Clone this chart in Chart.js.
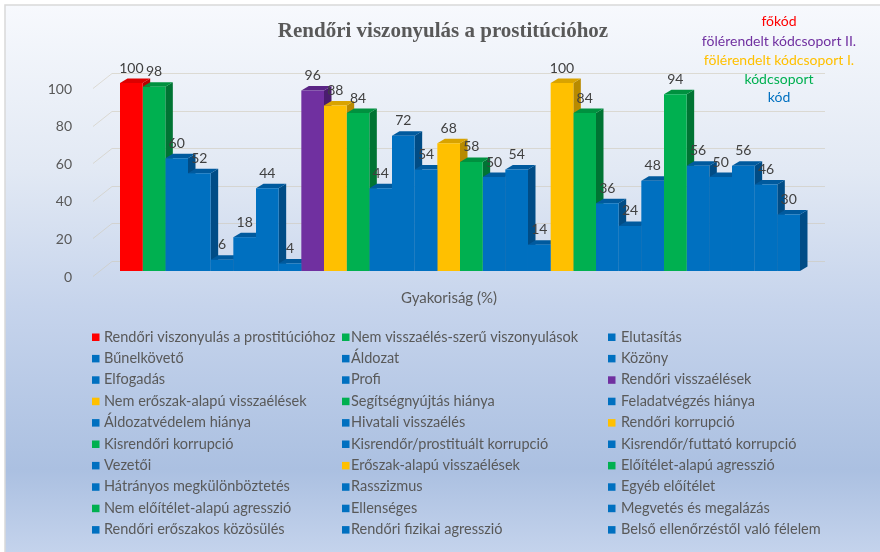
<!DOCTYPE html>
<html>
<head>
<meta charset="utf-8">
<script src="https://cdn.jsdelivr.net/npm/chart.js@4"></script>
<style>
  html, body { margin: 0; padding: 0; background: #fff; }
</style>
</head>
<body>
<canvas id="chart" width="880" height="552"></canvas>
<script>
var categories = [
  "Rendőri viszonyulás a prostitúcióhoz",
  "Nem visszaélés-szerű viszonyulások",
  "Elutasítás",
  "Bűnelkövető",
  "Áldozat",
  "Közöny",
  "Elfogadás",
  "Profi",
  "Rendőri visszaélések",
  "Nem erőszak-alapú visszaélések",
  "Segítségnyújtás hiánya",
  "Feladatvégzés hiánya",
  "Áldozatvédelem hiánya",
  "Hivatali visszaélés",
  "Rendőri korrupció",
  "Kisrendőri korrupció",
  "Kisrendőr/prostituált korrupció",
  "Kisrendőr/futtató korrupció",
  "Vezetői",
  "Erőszak-alapú visszaélések",
  "Előítélet-alapú agresszió",
  "Hátrányos megkülönböztetés",
  "Rasszizmus",
  "Egyéb előítélet",
  "Nem előítélet-alapú agresszió",
  "Ellenséges",
  "Megvetés és megalázás",
  "Rendőri erőszakos közösülés",
  "Rendőri fizikai agresszió",
  "Belső ellenőrzéstől való félelem"
];
var values = [100, 98, 60, 52, 6, 18, 44, 4, 96, 88, 84, 44, 72, 54, 68, 58, 50, 54, 14, 100, 84, 36, 24, 48, 94, 56, 50, 56, 46, 30];
// code level of each bar: 0 főkód, 1 fölérendelt II., 2 fölérendelt I., 3 kódcsoport, 4 kód
var levels = [0, 3, 4, 4, 4, 4, 4, 4, 1, 2, 3, 4, 4, 4, 2, 3, 4, 4, 4, 2, 3, 4, 4, 4, 3, 4, 4, 4, 4, 4];
var levelNames = ["főkód", "fölérendelt kódcsoport II.", "fölérendelt kódcsoport I.", "kódcsoport", "kód"];
var yTicks = [0, 20, 40, 60, 80, 100];

var frontColors = ["#ff0000", "#7030a0", "#ffc000", "#00b050", "#0070c0"];
var topColors   = ["#dd0000", "#5a2585", "#d9a300", "#00913f", "#005a9e"];
var sideColors  = ["#b80000", "#4a1d6e", "#b88a00", "#007433", "#004c86"];
var textColors  = ["#ff0000", "#7030a0", "#ffc000", "#00b050", "#0070c0"];

var DX = 7.5, DY = 4.5;

var datasets = categories.map(function(name, i) {
  return {
    label: name,
    data: [values[i]],
    backgroundColor: frontColors[levels[i]],
    topColor: topColors[levels[i]],
    sideColor: sideColors[levels[i]],
    borderWidth: 0,
    categoryPercentage: 0.9315,
    barPercentage: 1.0
  };
});

var decor = {
  id: "decor",
  beforeDraw: function(chart) {
    var ctx = chart.ctx;
    ctx.save();
    var g = ctx.createLinearGradient(0, 5, 0, 552);
    g.addColorStop(0, "#f7f9fd");
    g.addColorStop(0.3, "#e2e9f4");
    g.addColorStop(0.55, "#c6d4ec");
    g.addColorStop(0.85, "#abc0e1");
    g.addColorStop(1, "#c4d3ec");
    ctx.fillStyle = g;
    ctx.fillRect(5, 5, 875, 547);
    ctx.strokeStyle = "#d9d9d9";
    ctx.lineWidth = 1.5;
    ctx.beginPath();
    ctx.moveTo(5, 552);
    ctx.lineTo(5, 5);
    ctx.lineTo(880, 5);
    ctx.stroke();

    // back wall gridlines
    var a = chart.chartArea, ys = chart.scales.y;
    ctx.strokeStyle = "rgba(205,198,180,0.55)";
    ctx.lineWidth = 1;
    yTicks.forEach(function(v) {
      var y = Math.round(ys.getPixelForValue(v)) + 0.5;
      ctx.beginPath();
      ctx.moveTo(a.left - 2, y + 5);
      ctx.lineTo(a.left + 17, y - 10);
      ctx.lineTo(a.right, y - 10);
      ctx.stroke();
    });
    ctx.restore();
  },
  beforeDatasetsDraw: function(chart) {
    var ctx = chart.ctx;
    ctx.save();
    chart.data.datasets.forEach(function(ds, i) {
      var meta = chart.getDatasetMeta(i);
      meta.data.forEach(function(bar) {
        var p = bar.getProps(["x", "y", "base", "width"], true);
        var l = p.x - p.width / 2, r = p.x + p.width / 2, t = p.y, b = p.base;
        ctx.fillStyle = ds.sideColor;
        ctx.beginPath();
        ctx.moveTo(r, t);
        ctx.lineTo(r + DX, t - DY);
        ctx.lineTo(r + DX, b - DY);
        ctx.lineTo(r, b);
        ctx.closePath();
        ctx.fill();
        ctx.fillStyle = ds.topColor;
        ctx.beginPath();
        ctx.moveTo(l, t);
        ctx.lineTo(l + DX, t - DY);
        ctx.lineTo(r + DX, t - DY);
        ctx.lineTo(r, t);
        ctx.closePath();
        ctx.fill();
      });
    });
    ctx.restore();
  },
  afterDatasetsDraw: function(chart) {
    var ctx = chart.ctx;
    ctx.save();
    ctx.font = "14px Lato";
    ctx.fillStyle = "#404040";
    ctx.textAlign = "center";
    ctx.textBaseline = "bottom";
    chart.data.datasets.forEach(function(ds, i) {
      chart.getDatasetMeta(i).data.forEach(function(bar, j) {
        ctx.fillText(String(ds.data[j]), bar.x, bar.y - 8);
      });
    });
    ctx.restore();
  },
  afterDraw: function(chart) {
    var ctx = chart.ctx;
    ctx.save();
    ctx.textAlign = "center";
    ctx.textBaseline = "middle";
    ctx.fillStyle = "#595959";
    ctx.font = "bold 21px 'Liberation Serif'";
    ctx.fillText("Rendőri viszonyulás a prostitúcióhoz", 443, 32);

    ctx.font = "15px Lato";
    ctx.fillText("Gyakoriság (%)", 449, 298);

    var annY = [21, 41, 60, 79, 97];
    ctx.font = "14px Lato";
    levelNames.forEach(function(n, k) {
      ctx.fillStyle = textColors[k];
      ctx.fillText(n, 779, annY[k]);
    });

    // legend in three columns
    var colSwatch = [92, 342, 608], colText = [104, 351, 621];
    ctx.textAlign = "left";
    ctx.font = "14.5px Lato";
    chart.data.datasets.forEach(function(ds, i) {
      var row = Math.floor(i / 3), col = i % 3;
      var y = 337 + row * 21.4;
      ctx.fillStyle = ds.backgroundColor;
      ctx.fillRect(colSwatch[col], y - 3.5, 7.5, 7.5);
      ctx.fillStyle = "#595959";
      ctx.fillText(ds.label, colText[col], y);
    });
    ctx.restore();
  }
};

new Chart(document.getElementById("chart").getContext("2d"), {
  type: "bar",
  data: { labels: [""], datasets: datasets },
  options: {
    responsive: false,
    animation: false,
    layout: { padding: { left: 0, right: 55, top: 83, bottom: 281 } },
    plugins: { legend: { display: false }, tooltip: { enabled: false } },
    scales: {
      x: { display: false },
      y: {
        min: 0,
        max: 100,
        afterFit: function(s) { s.width = 95; },
        ticks: { stepSize: 20, padding: 15, labelOffset: 6, color: "#595959", font: { family: "Lato", size: 14 } },
        grid: { display: false },
        border: { display: false }
      }
    }
  },
  plugins: [decor]
});
</script>
</body>
</html>
